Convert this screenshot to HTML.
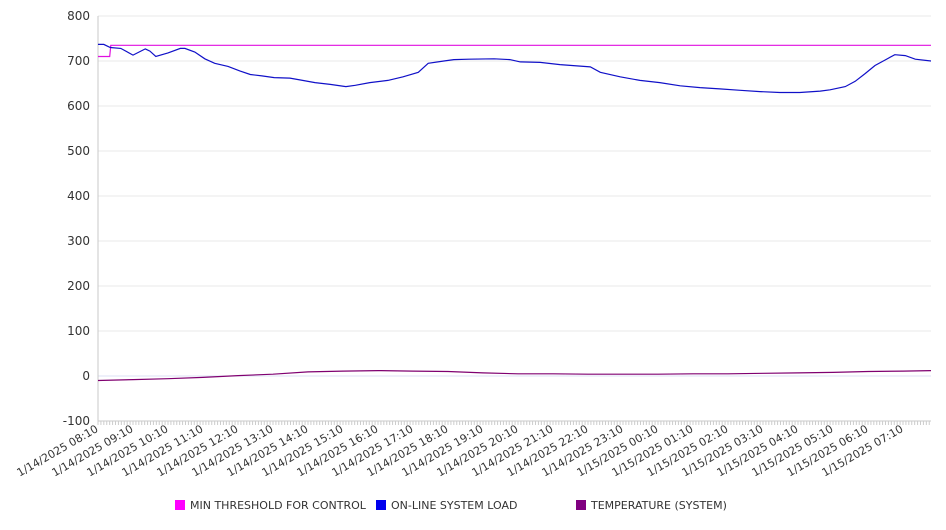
<!DOCTYPE html>
<html><head><meta charset="utf-8">
<style>
body{margin:0;background:#fff;font-family:"DejaVu Sans","Liberation Sans",sans-serif;}
svg text{font-family:"DejaVu Sans","Liberation Sans",sans-serif;fill:#333;}
</style></head>
<body>
<svg id="chart" width="946" height="526" xmlns="http://www.w3.org/2000/svg">
<g id="grid"></g>
<g id="yaxis"></g>
<g id="xaxis"></g>
<g id="series"></g>
<g id="legend"></g>
</svg>
<script>
const yTicks=[800,700,600,500,400,300,200,100,0,-100];
const xLabels=["1/14/2025 08:10","1/14/2025 09:10","1/14/2025 10:10","1/14/2025 11:10","1/14/2025 12:10","1/14/2025 13:10","1/14/2025 14:10","1/14/2025 15:10","1/14/2025 16:10","1/14/2025 17:10","1/14/2025 18:10","1/14/2025 19:10","1/14/2025 20:10","1/14/2025 21:10","1/14/2025 22:10","1/14/2025 23:10","1/15/2025 00:10","1/15/2025 01:10","1/15/2025 02:10","1/15/2025 03:10","1/15/2025 04:10","1/15/2025 05:10","1/15/2025 06:10","1/15/2025 07:10"];
const loadMin=[0,10,21,39,60,81,89,99,120,141,149,166,183,200,223,243,261,281,302,329,346,372,398,425,441,466,497,523,549,566,593,610,636,679,706,724,758,792,844,861,895,929,963,998,1032,1066,1101,1135,1169,1203,1238,1255,1281,1298,1315,1332,1349,1366,1384,1401,1428];
const loadVal=[737,737,730,728,713,727,722,710,718,728,728,720,705,695,688,678,670,667,663,662,658,652,648,643,646,652,657,665,675,695,700,703,704,705,703,698,697,692,687,675,665,657,652,645,641,638,635,632,630,630,633,636,643,655,672,690,702,714,712,704,700];
const threshMin=[0,20,22,1428];
const threshVal=[710,710,735,735];
const tempMin=[0,60,120,180,240,300,360,420,480,540,600,660,720,780,840,900,960,1020,1080,1140,1200,1260,1320,1380,1428];
const tempVal=[-10,-8,-6,-3,1,4,9,11,12,11,10,7,5,5,4,4,4,5,5,6,7,8,10,11,12];
const X0=98,X1=931,Y0=16,Y1=421,PPM=35/60;
const x=m=>X0+m*PPM;
const y=v=>Y1-(v+100)*(Y1-Y0)/900;
const NS="http://www.w3.org/2000/svg";
function mk(tag,attrs,parent){const e=document.createElementNS(NS,tag);for(const k in attrs)e.setAttribute(k,attrs[k]);parent.appendChild(e);return e;}
const grid=document.getElementById('grid'),ya=document.getElementById('yaxis'),xa=document.getElementById('xaxis'),se=document.getElementById('series'),lg=document.getElementById('legend');
yTicks.forEach(t=>{
 const l=mk('line',{x1:X0,x2:X1,y1:y(t),y2:y(t),stroke:t===0?'#dde0f5':'#e8e8e8','stroke-width':1},grid);
 
 
 const tx=mk('text',{x:X0-8,y:y(t)+4,'text-anchor':'end','font-size':12},ya);
 tx.textContent=t;
 
 
});
mk('line',{x1:X0,x2:X0,y1:Y0,y2:Y1,stroke:'#c8c8c8'},ya);
mk('line',{x1:X0,x2:X1,y1:Y1,y2:Y1,stroke:'#c8c8c8'},xa);
for(let m=0;x(m)<=X1;m+=5){mk('line',{x1:x(m),x2:x(m),y1:Y1,y2:Y1+4,stroke:'#ccc'},xa);}
xLabels.forEach((s,i)=>{
 const px=x(i*60)+1;
 const tx=mk('text',{x:px,y:Y1+10,'text-anchor':'end','font-size':11,transform:`rotate(-30 ${px} ${Y1+10})`},xa);
 tx.textContent=s;
 
 
});
function line(ms,vs,color,name){
 const d=ms.map((m,i)=>(i?'L':'M')+x(m).toFixed(1)+','+y(vs[i]).toFixed(1)).join('');
 const p=mk('path',{d:d,fill:'none',stroke:color,'stroke-width':1.2},se);
 
 
}
line(threshMin,threshVal,'#e010e0','threshold-line');
line(tempMin,tempVal,'#800070','temperature-line');
line(loadMin,loadVal,'#1010c8','load-line');
const leg=[["MIN THRESHOLD FOR CONTROL","#ff00ff",175],["ON-LINE SYSTEM LOAD","#0000ee",376],["TEMPERATURE (SYSTEM)","#800080",576]];
leg.forEach(([t,c,lx])=>{
 const g=mk('g',{},lg);
 
 
 mk('rect',{x:lx,y:500,width:10,height:10,fill:c},g);
 const tx=mk('text',{x:lx+15,y:509,'font-size':11},g);
 tx.textContent=t;
});
</script>
</body></html>
